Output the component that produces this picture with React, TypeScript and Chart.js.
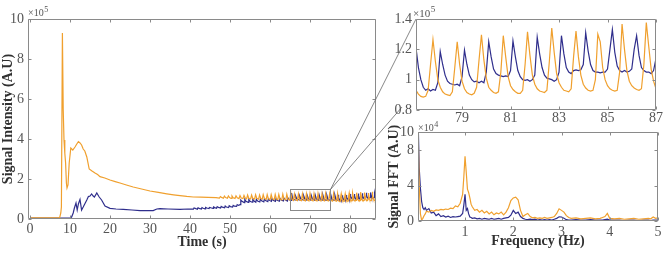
import React, { useEffect, useRef } from 'react';
import { Chart, registerables } from 'chart.js';

Chart.register(...registerables);

const FONT = "'Liberation Serif', 'Times New Roman', serif";
const ORANGE = '#F0A02E';
const BLUE = '#2F2E8C';
const FRAME = '#8a8a8a';
const TICK_COLOR = '#555555';
const TITLE_COLOR = '#303030';
const CONNECT = '#6a6a6a';

// ---------- Main time series (values in units of 1e5) ----------
const orangeEarlyTime = [0, 7.4, 7.7, 7.85, 8.1, 8.3, 8.5, 8.7, 8.9, 9.1, 9.25, 9.5, 9.8, 10.2, 10.7, 11.25, 11.7, 12.1, 12.5, 12.9, 13.3, 13.7, 14.2, 14.8, 15.5, 16.25, 16.9, 17.5, 18.7, 20.0, 21.3, 22.5, 24.1, 25.8, 27.9, 30.0, 32.1, 34.2, 35.9, 37.5, 39.2, 40.8, 42.7, 44.5, 46.5];
const orangeEarly = [0.06, 0.06, 0.3, 0.6, 9.3, 5.5, 3.95, 3.3, 2.8, 1.8, 1.55, 1.7, 2.8, 3.55, 3.45, 3.6, 3.75, 3.87, 3.8, 3.7, 3.5, 3.4, 3.1, 2.5, 2.4, 2.3, 2.22, 2.12, 2.05, 1.95, 1.87, 1.8, 1.7, 1.6, 1.5, 1.4, 1.33, 1.26, 1.21, 1.17, 1.13, 1.1, 1.09, 1.08, 1.07];

const orangeMidTime = [47.35, 47.6, 47.9, 48.35, 48.6, 48.9, 49.35, 49.6, 49.9, 50.25, 50.5, 50.8, 51.25, 51.5, 51.8, 52.25, 52.5, 52.8, 53.25, 53.5, 53.8, 54.15, 54.4, 54.7, 55.15, 55.4, 55.7, 56.15, 56.4, 56.7, 57.15, 57.4, 57.7, 58.05, 58.3, 58.6, 59.05, 59.3, 59.6, 60.05, 60.3, 60.6, 61.05, 61.3, 61.6, 61.95, 62.2, 62.5, 62.95, 63.2, 63.5, 63.95, 64.2, 64.5, 64.95, 65.2, 65.5, 65.85, 66.1, 66.4, 66.85, 67.1, 67.4, 67.85, 68.1, 68.4, 68.85, 69.1, 69.4, 69.75, 70.0, 70.3, 70.75, 71.0, 71.3, 71.75, 72.0, 72.3, 72.75, 73.0, 73.3, 73.65, 73.9, 74.2, 74.65, 74.9, 75.2, 75.65, 75.9, 76.2, 76.65, 76.9];
const orangeMid = [1.05, 1.12, 1.08, 1.04, 1.14, 1.07, 1.04, 1.15, 1.07, 1.03, 1.15, 1.06, 1.03, 1.16, 1.06, 1.02, 1.17, 1.05, 1.02, 1.18, 1.05, 1.01, 1.2, 1.04, 1.0, 1.2, 1.03, 1.0, 1.21, 1.03, 0.99, 1.2, 1.02, 0.99, 1.22, 1.02, 0.98, 1.22, 1.01, 0.98, 1.22, 1.01, 0.97, 1.23, 1.0, 0.97, 1.23, 1.0, 0.96, 1.24, 0.99, 0.96, 1.24, 0.99, 0.95, 1.3, 0.98, 0.93, 1.25, 0.96, 0.92, 1.25, 0.95, 0.92, 1.26, 0.95, 0.91, 1.26, 0.94, 0.91, 1.27, 0.94, 0.9, 1.26, 0.93, 0.9, 1.27, 0.93, 0.9, 1.26, 0.93, 0.9, 1.27, 0.93, 0.9, 1.26, 0.93, 0.89, 1.27, 0.92, 0.89, 1.27];

const blueEarlyTime = [0, 10.0, 10.4, 10.8, 11.1, 11.5, 11.8, 12.1, 12.5, 12.9, 13.3, 13.75, 14.2, 14.6, 15.0, 15.4, 15.8, 16.1, 16.7, 17.0, 17.3, 17.9, 18.75, 20.0, 21.5, 23.3, 25.5, 27.5, 30.8, 31.7, 32.5, 34.5, 37.5, 39.5];
const blueEarly = [0.04, 0.04, 0.1, 0.3, 0.55, 0.8, 0.45, 0.75, 0.98, 0.45, 0.6, 0.78, 0.95, 1.12, 1.15, 1.25, 1.15, 1.1, 1.3, 1.2, 1.1, 0.95, 0.65, 0.53, 0.5, 0.48, 0.45, 0.42, 0.42, 0.5, 0.52, 0.5, 0.48, 0.5];

const blueMidTime = [40.85, 41.0, 41.3, 41.85, 42.0, 42.3, 42.85, 43.0, 43.3, 43.75, 43.9, 44.2, 44.75, 44.9, 45.2, 45.75, 45.9, 46.2, 46.65, 46.8, 47.1, 47.65, 47.8, 48.1, 48.65, 48.8, 49.1, 49.65, 49.8, 50.1, 50.65, 50.8, 51.1, 51.65, 51.8, 52.1, 52.55, 52.7, 53.0, 53.55, 53.7, 54.0, 54.55, 54.7, 55.0, 55.55, 55.7, 56.0, 56.45, 56.6, 56.9, 57.45, 57.6, 57.9, 58.45, 58.6, 58.9, 59.45, 59.6, 59.9, 60.35, 60.5, 60.8, 61.35, 61.5, 61.8, 62.35, 62.5, 62.8, 63.35, 63.5, 63.8, 64.35, 64.5, 64.8, 65.25, 65.4, 65.7, 66.25, 66.4, 66.7, 67.25, 67.4, 67.7, 68.25, 68.4, 68.7, 69.15, 69.3, 69.6, 70.15, 70.3, 70.6, 71.15, 71.3, 71.6, 72.15, 72.3, 72.6, 73.05, 73.2, 73.5, 74.05, 74.2, 74.5, 75.05, 75.2, 75.5, 76.05, 76.2, 76.5, 77.0];
const blueMid = [0.49, 0.55, 0.53, 0.49, 0.56, 0.53, 0.5, 0.57, 0.54, 0.51, 0.58, 0.55, 0.52, 0.58, 0.56, 0.53, 0.6, 0.57, 0.54, 0.62, 0.58, 0.55, 0.63, 0.59, 0.56, 0.65, 0.6, 0.57, 0.66, 0.62, 0.6, 0.68, 0.64, 0.63, 0.72, 0.68, 0.72, 0.95, 0.88, 0.82, 0.98, 0.88, 0.83, 0.98, 0.89, 0.84, 0.99, 0.9, 0.84, 0.99, 0.9, 0.85, 1.0, 0.91, 0.86, 1.0, 0.92, 0.87, 1.01, 0.93, 0.88, 1.02, 0.94, 0.88, 1.02, 0.94, 0.89, 1.03, 0.95, 0.9, 1.04, 0.96, 0.9, 1.05, 0.96, 0.93, 1.3, 1.0, 0.95, 1.15, 1.01, 0.95, 1.16, 1.01, 0.95, 1.17, 1.01, 0.95, 1.18, 1.01, 0.95, 1.19, 1.01, 0.94, 1.2, 1.0, 0.94, 1.2, 1.0, 0.94, 1.21, 1.0, 0.93, 1.2, 0.99, 0.93, 1.21, 0.99, 0.93, 1.21, 0.99, 0.93];

// ---------- Zoomed segment 77.1 - 87 s (units of 1e5) ----------
const insetTime = [
  77.1, 77.2, 77.3, 77.4, 77.5, 77.6, 77.7, 77.8, 77.9, 78.0,
  78.1, 78.2, 78.3, 78.4, 78.5, 78.6, 78.7, 78.8, 78.9, 79.0,
  79.1, 79.2, 79.3, 79.4, 79.5, 79.6, 79.7, 79.8, 79.9, 80.0,
  80.1, 80.2, 80.3, 80.4, 80.5, 80.6, 80.7, 80.8, 80.9, 81.0,
  81.1, 81.2, 81.3, 81.4, 81.5, 81.6, 81.7, 81.8, 81.9, 82.0,
  82.1, 82.2, 82.3, 82.4, 82.5, 82.6, 82.7, 82.8, 82.9, 83.0,
  83.1, 83.2, 83.3, 83.4, 83.5, 83.6, 83.7, 83.8, 83.9, 84.0,
  84.1, 84.2, 84.3, 84.4, 84.5, 84.6, 84.7, 84.8, 84.9, 85.0,
  85.1, 85.2, 85.3, 85.4, 85.5, 85.6, 85.7, 85.8, 85.9, 86.0,
  86.1, 86.2, 86.3, 86.4, 86.5, 86.6, 86.7, 86.8, 86.9, 87.0,
];
const insetOrange = [
  0.93, 0.905, 0.89, 0.885, 0.89, 0.93, 1.10, 1.265, 1.12, 1.0,
  0.95, 0.92, 0.905, 0.90, 0.895, 0.92, 1.08, 1.25, 1.10, 0.99,
  0.94, 0.915, 0.905, 0.90, 0.91, 0.95, 1.13, 1.295, 1.13, 1.01,
  0.95, 0.93, 0.915, 0.91, 0.92, 1.05, 1.29, 1.15, 1.02, 0.96,
  0.935, 0.92, 0.91, 0.91, 0.93, 1.10, 1.315, 1.16, 1.03, 0.97,
  0.94, 0.925, 0.92, 0.915, 0.93, 1.12, 1.34, 1.18, 1.04, 0.98,
  0.95, 0.93, 0.925, 0.92, 0.94, 1.15, 1.32, 1.15, 1.03, 0.97,
  0.945, 0.93, 0.925, 0.93, 1.0, 1.30, 1.25, 1.08, 1.0, 0.96,
  0.94, 0.93, 0.925, 0.93, 1.05, 1.367, 1.2, 1.06, 0.99, 0.96,
  0.945, 0.935, 0.93, 0.94, 1.10, 1.376, 1.22, 1.07, 0.99, 0.94,
];
const insetBlue = [
  1.21, 1.08, 1.0, 0.95, 0.93, 0.94, 0.925, 0.935, 0.93, 0.98,
  1.185, 1.1, 1.03, 0.99, 0.975, 0.97, 0.965, 0.97, 0.96, 1.02,
  1.195, 1.1, 1.03, 1.0, 0.985, 0.99, 0.98, 0.99, 0.98, 1.05,
  1.25, 1.15, 1.07, 1.04, 1.03, 1.025, 1.02, 1.025, 1.02, 1.06,
  1.255, 1.15, 1.06, 1.02, 1.0, 0.995, 1.0, 0.99, 1.0, 1.03,
  1.28, 1.17, 1.08, 1.03, 1.01, 1.005, 1.0, 0.99, 1.0, 1.05,
  1.29, 1.17, 1.08, 1.05, 1.04, 1.06, 1.065, 1.06, 1.065, 1.1,
  1.31, 1.19, 1.1, 1.06, 1.05, 1.05, 1.045, 1.05, 1.05, 1.07,
  1.2, 1.33, 1.18, 1.09, 1.06, 1.05, 1.06, 1.05, 1.055, 1.07,
  1.2, 1.29, 1.16, 1.08, 1.06, 1.05, 1.05, 1.04, 1.06, 1.14,
];

// ---------- FFT (values in units of 1e4) ----------
const fftFreq = [
  0.025, 0.05, 0.075, 0.1, 0.125, 0.15, 0.175, 0.2,
  0.25, 0.3, 0.35, 0.4, 0.45, 0.5, 0.55, 0.6, 0.65, 0.7, 0.75, 0.8, 0.85, 0.9, 0.95,
  0.975, 1.0, 1.025, 1.05, 1.075, 1.1, 1.125, 1.15,
  1.2, 1.25, 1.3, 1.35, 1.4, 1.45, 1.5, 1.55, 1.6, 1.65, 1.7, 1.75, 1.8, 1.85, 1.9, 1.95,
  2.0, 2.05, 2.1, 2.15, 2.2, 2.25, 2.3, 2.35, 2.4, 2.45, 2.5, 2.55, 2.6, 2.65, 2.7, 2.75, 2.8, 2.85, 2.9, 2.95,
  3.0, 3.05, 3.1, 3.15, 3.2,
  3.3, 3.4, 3.5, 3.6, 3.7, 3.8,
  3.85, 3.9, 3.95, 4.0,
  4.1, 4.2, 4.3, 4.4, 4.5, 4.6, 4.7, 4.8,
  4.85, 4.9, 4.95, 5.0,
];
const fftOrange = [
  11, 4, 0.8, 0.1, 0.3, 0.6, 0.8, 1.1,
  1.0, 1.2, 1.1, 1.25, 1.2, 1.3, 1.25, 1.35, 1.3, 1.45, 1.4, 1.7, 1.6, 2.0, 3.0,
  5.0, 7.3, 5.5, 3.6, 3.2, 2.6, 1.9, 1.6,
  1.2, 1.3, 1.0, 1.2, 0.9, 1.1, 0.8, 1.0, 0.7, 0.9, 0.8, 1.0, 0.7, 1.0, 1.5, 2.3,
  2.6, 2.7, 2.4, 1.2, 0.5, 0.7, 0.85, 0.5, 0.35, 0.4, 0.3, 0.35, 0.3, 0.4, 0.3, 0.35, 0.4, 0.5, 0.85, 1.38,
  1.2, 1.0, 0.6, 0.4, 0.3,
  0.35, 0.25, 0.3, 0.35, 0.25, 0.3,
  0.4, 0.5, 0.85, 0.3,
  0.25, 0.3, 0.2, 0.25, 0.3, 0.2, 0.25, 0.3,
  0.25, 0.45, 0.3, 0.35,
];
const fftBlue = [
  12, 6, 3.7, 2.2, 1.5, 1.3, 1.5, 1.2,
  1.4, 0.9, 1.0, 0.6, 0.8, 0.5, 0.6, 0.45, 0.55, 0.4, 0.5, 0.45, 0.5, 0.55, 0.85,
  1.8, 3.0, 1.2, 1.4, 0.8, 0.45, 0.4, 0.3,
  0.35, 0.25, 0.3, 0.2, 0.3, 0.25, 0.2, 0.3, 0.2, 0.25, 0.3, 0.2, 0.3, 0.35, 0.4, 0.65,
  1.2, 0.85, 1.0, 0.5, 0.3, 0.2, 0.15, 0.2, 0.15, 0.2, 0.1, 0.15, 0.1, 0.15, 0.1, 0.15, 0.1, 0.2, 0.3, 0.47,
  0.45, 0.3, 0.15, 0.1, 0.1,
  0.15, 0.1, 0.1, 0.15, 0.1, 0.1,
  0.1, 0.15, 0.2, 0.1,
  0.1, 0.1, 0.05, 0.1, 0.1, 0.05, 0.1, 0.1,
  0.05, 0.1, 0.1, 0.1,
];

// ---------- Ticks ----------
const mainXTicks = [0, 10, 20, 30, 40, 50, 60, 70, 80];
const mainYTicks = [0, 2, 4, 6, 8, 10];
const insetXTicks = [79, 81, 83, 85, 87];
const insetYTicks = [0.8, 1, 1.2, 1.4];
const fftXTicks = [1, 2, 3, 4, 5];
const fftYTicks = [0, 4, 8, 10];

const ZOOM_BOX = { x0: 65, x1: 75, y0: 0.45, y1: 1.5 };

const INSET_POS = { left: 380, top: 0, width: 287, height: 125 };
const FFT_POS = { left: 380, top: 120, width: 287, height: 134 };

function zip(xs: number[], ys: number[]) {
  return xs.map((x, i) => ({ x, y: ys[i] }));
}

function fixedTicks(values: number[]) {
  return (scale: any) => {
    scale.ticks = values.map((v) => ({ value: v }));
  };
}

const fmt = (v: any) => String(Math.round(Number(v) * 100) / 100);

const framePlugin = {
  id: 'frameTicks',
  afterDatasetsDraw(chart: any) {
    const { ctx, chartArea: a, scales } = chart;
    const L = Math.round(a.left) + 0.5;
    const R = Math.round(a.right) - 0.5;
    const T = Math.round(a.top) + 0.5;
    const B = Math.round(a.bottom) - 0.5;
    ctx.save();
    ctx.strokeStyle = FRAME;
    ctx.lineWidth = 1;
    ctx.beginPath();
    ctx.rect(L, T, R - L, B - T);
    for (const t of scales.x.ticks) {
      const px = Math.round(scales.x.getPixelForValue(t.value)) + 0.5;
      ctx.moveTo(px, B);
      ctx.lineTo(px, B - 3);
      ctx.moveTo(px, T);
      ctx.lineTo(px, T + 3);
    }
    for (const t of scales.y.ticks) {
      const py = Math.round(scales.y.getPixelForValue(t.value)) + 0.5;
      ctx.moveTo(L, py);
      ctx.lineTo(L + 3, py);
      ctx.moveTo(R, py);
      ctx.lineTo(R - 3, py);
    }
    ctx.stroke();
    ctx.restore();
  },
};

function expPlugin(id: string, exp: string, dx: number, dy: number, size: number) {
  return {
    id,
    afterDraw(chart: any) {
      const { ctx, chartArea: a } = chart;
      ctx.save();
      ctx.fillStyle = TICK_COLOR;
      ctx.textBaseline = 'alphabetic';
      ctx.textAlign = 'left';
      ctx.font = `${size}px ${FONT}`;
      const x = a.left + dx;
      const y = a.top + dy;
      ctx.fillText('×10', x, y);
      const w = ctx.measureText('×10').width;
      ctx.font = `${Math.round(size * 0.78)}px ${FONT}`;
      ctx.fillText(exp, x + w + 0.5, y - size * 0.45);
      ctx.restore();
    },
  };
}

function zoomPlugin(inset: any) {
  return {
    id: 'zoomBox',
    afterDatasetsDraw(chart: any) {
      const { ctx, scales } = chart;
      const x0 = Math.round(scales.x.getPixelForValue(ZOOM_BOX.x0)) + 0.5;
      const x1 = Math.round(scales.x.getPixelForValue(ZOOM_BOX.x1)) + 0.5;
      const yTop = Math.round(scales.y.getPixelForValue(ZOOM_BOX.y1)) + 0.5;
      const yBot = Math.round(scales.y.getPixelForValue(ZOOM_BOX.y0)) + 0.5;
      ctx.save();
      ctx.strokeStyle = FRAME;
      ctx.lineWidth = 1;
      ctx.strokeRect(x0, yTop, x1 - x0, yBot - yTop);
      const ia = inset.chartArea;
      if (ia) {
        ctx.strokeStyle = CONNECT;
        ctx.lineWidth = 0.8;
        ctx.beginPath();
        ctx.moveTo(x1, yTop);
        ctx.lineTo(INSET_POS.left + ia.left, INSET_POS.top + ia.top);
        ctx.moveTo(x1, yTop);
        ctx.lineTo(INSET_POS.left + ia.left - 14, INSET_POS.top + ia.bottom - 3);
        ctx.stroke();
      }
      ctx.restore();
    },
  };
}

function lineDataset(data: any[], color: string, width = 1.2) {
  return {
    data,
    borderColor: color,
    backgroundColor: color,
    borderWidth: width,
    pointRadius: 0,
    tension: 0,
    fill: false,
  };
}

const tickFont = { family: FONT, size: 14 };
const titleFont = { family: FONT, size: 14, weight: 'bold' as const };

export default function App() {
  const mainRef = useRef<HTMLCanvasElement>(null);
  const insetRef = useRef<HTMLCanvasElement>(null);
  const fftRef = useRef<HTMLCanvasElement>(null);

  useEffect(() => {
    Chart.defaults.font.family = FONT;

    const inset = new Chart(insetRef.current as HTMLCanvasElement, {
      type: 'line',
      data: {
        datasets: [
          lineDataset(zip(insetTime, insetOrange), ORANGE),
          lineDataset(zip(insetTime, insetBlue), BLUE),
        ] as any,
      },
      options: {
        animation: false,
        responsive: false,
        devicePixelRatio: 1,
        events: [],
        layout: { padding: { top: 19, right: 11, left: 0, bottom: 0 } },
        plugins: { legend: { display: false }, tooltip: { enabled: false } },
        scales: {
          x: {
            type: 'linear',
            min: 77.1,
            max: 87,
            grid: { display: false, drawTicks: false },
            border: { display: false },
            afterBuildTicks: fixedTicks(insetXTicks),
            afterFit: (s: any) => { s.height = 15; },
            ticks: { font: tickFont, color: TICK_COLOR, padding: 0, maxRotation: 0, minRotation: 0, autoSkip: false, callback: fmt },
          },
          y: {
            type: 'linear',
            min: 0.8,
            max: 1.4,
            grid: { display: false, drawTicks: false },
            border: { display: false },
            afterBuildTicks: fixedTicks(insetYTicks),
            afterFit: (s: any) => { s.width = 36; },
            ticks: { font: tickFont, color: TICK_COLOR, padding: 4, autoSkip: false, callback: fmt },
          },
        },
      } as any,
      plugins: [framePlugin, expPlugin('exp5i', '5', -3, -2, 11)],
    });

    const fft = new Chart(fftRef.current as HTMLCanvasElement, {
      type: 'line',
      data: {
        datasets: [
          lineDataset(zip(fftFreq, fftOrange), ORANGE),
          lineDataset(zip(fftFreq, fftBlue), BLUE),
        ] as any,
      },
      options: {
        animation: false,
        responsive: false,
        devicePixelRatio: 1,
        events: [],
        layout: { padding: { top: 9, right: 9, left: 0, bottom: 0 } },
        plugins: { legend: { display: false }, tooltip: { enabled: false } },
        scales: {
          x: {
            type: 'linear',
            min: 0.025,
            max: 5,
            grid: { display: false, drawTicks: false },
            border: { display: false },
            afterBuildTicks: fixedTicks(fftXTicks),
            afterFit: (s: any) => { s.height = 33; },
            ticks: { font: tickFont, color: TICK_COLOR, padding: 3, maxRotation: 0, minRotation: 0, autoSkip: false, callback: fmt },
            title: { display: true, text: 'Frequency (Hz)', font: titleFont, color: TITLE_COLOR, padding: { top: 0, bottom: 4 } },
          },
          y: {
            type: 'linear',
            min: 0,
            max: 10,
            grid: { display: false, drawTicks: false },
            border: { display: false },
            afterBuildTicks: fixedTicks(fftYTicks),
            afterFit: (s: any) => { s.width = 38; },
            ticks: { font: tickFont, color: TICK_COLOR, padding: 4, autoSkip: false, callback: fmt },
            title: { display: true, text: 'Signal FFT (A.U)', font: titleFont, color: TITLE_COLOR, padding: { top: 6, bottom: 0 } },
          },
        },
      } as any,
      plugins: [framePlugin, expPlugin('exp4', '4', 0, -1, 10)],
    });

    const main = new Chart(mainRef.current as HTMLCanvasElement, {
      type: 'line',
      data: {
        datasets: [
          lineDataset(zip([...orangeEarlyTime, ...orangeMidTime, ...insetTime], [...orangeEarly, ...orangeMid, ...insetOrange]), ORANGE),
          lineDataset(zip([...blueEarlyTime, ...blueMidTime, ...insetTime], [...blueEarly, ...blueMid, ...insetBlue]), BLUE),
        ] as any,
      },
      options: {
        animation: false,
        responsive: false,
        devicePixelRatio: 1,
        events: [],
        layout: { padding: { top: 19, right: 291, left: 0, bottom: 0 } },
        plugins: { legend: { display: false }, tooltip: { enabled: false } },
        scales: {
          x: {
            type: 'linear',
            min: -0.5,
            max: 86.5,
            grid: { display: false, drawTicks: false },
            border: { display: false },
            afterBuildTicks: fixedTicks(mainXTicks),
            afterFit: (s: any) => { s.height = 35; },
            ticks: { font: tickFont, color: TICK_COLOR, padding: 2, maxRotation: 0, minRotation: 0, autoSkip: false, callback: fmt },
            title: { display: true, text: 'Time (s)', font: titleFont, color: TITLE_COLOR, padding: { top: 0, bottom: 3 } },
          },
          y: {
            type: 'linear',
            min: 0,
            max: 10,
            grid: { display: false, drawTicks: false },
            border: { display: false },
            afterBuildTicks: fixedTicks(mainYTicks),
            afterFit: (s: any) => { s.width = 28; },
            ticks: { font: tickFont, color: TICK_COLOR, padding: 4, autoSkip: false, callback: fmt },
            title: { display: true, text: 'Signal Intensity (A.U)', font: titleFont, color: TITLE_COLOR, padding: { top: 0, bottom: 0 } },
          },
        },
      } as any,
      plugins: [framePlugin, expPlugin('exp5m', '5', 0, -3, 10), zoomPlugin(inset)],
    });

    return () => {
      main.destroy();
      inset.destroy();
      fft.destroy();
    };
  }, []);

  const abs = (p: { left: number; top: number; width: number; height: number }) => ({
    position: 'absolute' as const,
    left: p.left,
    top: p.top,
    width: p.width,
    height: p.height,
  });

  return (
    <div style={{ position: 'absolute', left: 0, top: 0, width: 667, height: 254, background: '#ffffff', overflow: 'hidden' }}>
      <canvas ref={mainRef} width={667} height={254} style={abs({ left: 0, top: 0, width: 667, height: 254 })} />
      <canvas ref={insetRef} width={INSET_POS.width} height={INSET_POS.height} style={abs(INSET_POS)} />
      <canvas ref={fftRef} width={FFT_POS.width} height={FFT_POS.height} style={abs(FFT_POS)} />
    </div>
  );
}
